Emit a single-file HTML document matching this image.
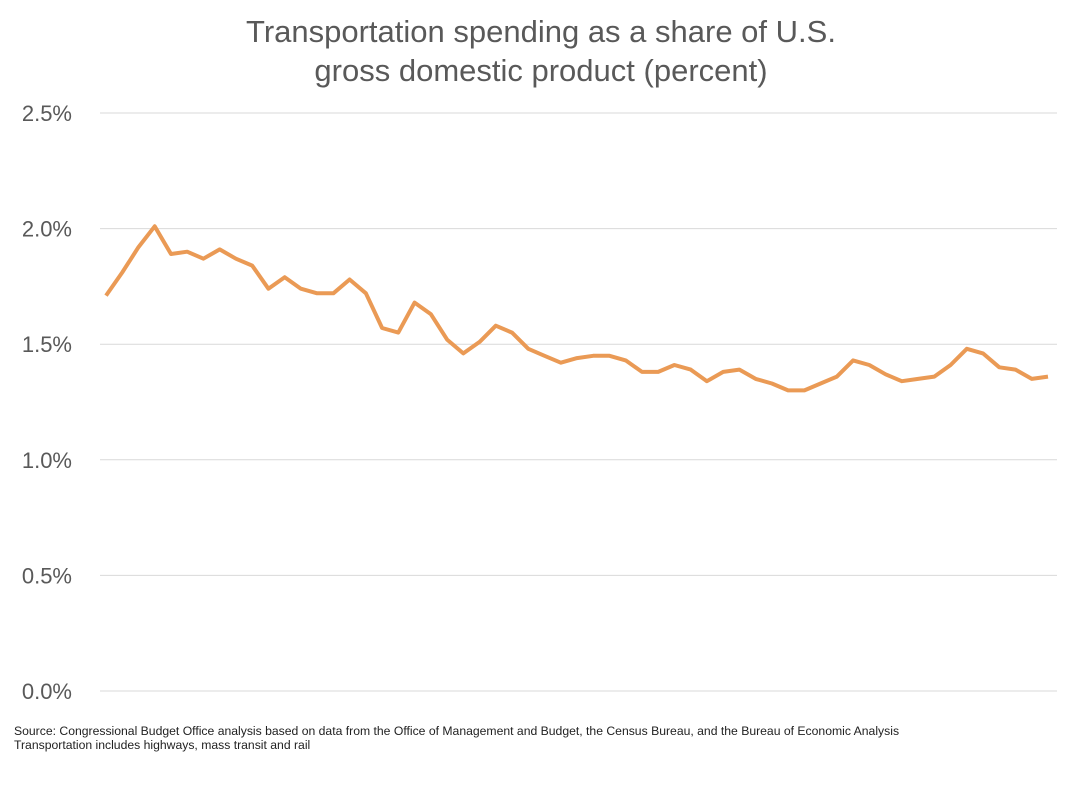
<!DOCTYPE html>
<html><head><meta charset="utf-8"><style>
body{margin:0;background:#fff;font-family:"Liberation Sans",sans-serif;}
</style></head><body>
<svg width="1082" height="799" xmlns="http://www.w3.org/2000/svg">
<text x="541" y="42" text-anchor="middle" font-size="31" fill="#595959">Transportation spending as a share of U.S.</text>
<text x="541" y="81" text-anchor="middle" font-size="31" fill="#595959">gross domestic product (percent)</text>
<g id="grid"></g><g id="ylabels"></g>
<path id="line" fill="none" stroke="#ea9a55" stroke-width="4" stroke-linejoin="round"/>
<text x="14" y="735" font-size="12.2" fill="#222">Source: Congressional Budget Office analysis based on data from the Office of Management and Budget, the Census Bureau, and the Bureau of Economic Analysis</text>
<text x="14" y="749" font-size="12.2" fill="#222">Transportation includes highways, mass transit and rail</text>
</svg>
<script>
const yTicks=[0,0.5,1.0,1.5,2.0,2.5];
const yTickLabels=["0.0%","0.5%","1.0%","1.5%","2.0%","2.5%"];
const values=[1.71,1.81,1.92,2.01,1.89,1.90,1.87,1.91,1.87,1.84,1.74,1.79,1.74,1.72,1.72,1.78,1.72,1.57,1.55,1.68,1.63,1.52,1.46,1.51,1.58,1.55,1.48,1.45,1.42,1.44,1.45,1.45,1.43,1.38,1.38,1.41,1.39,1.34,1.38,1.39,1.35,1.33,1.30,1.30,1.33,1.36,1.43,1.41,1.37,1.34,1.35,1.36,1.41,1.48,1.46,1.40,1.39,1.35,1.36];
const y=v=>691-v*231.2;
const x=i=>106+i*(1048-106)/(values.length-1);
const ns="http://www.w3.org/2000/svg";
const g=document.getElementById('grid'),yl=document.getElementById('ylabels');
yTicks.forEach((t,i)=>{
 const l=document.createElementNS(ns,'line');
 l.setAttribute('x1',100);l.setAttribute('x2',1057);l.setAttribute('y1',y(t));l.setAttribute('y2',y(t));
 l.setAttribute('stroke','#d9d9d9');l.setAttribute('stroke-width','1');
 
 
 g.appendChild(l);
 const tx=document.createElementNS(ns,'text');
 tx.setAttribute('x',72);tx.setAttribute('y',y(t)+8);tx.setAttribute('text-anchor','end');
 tx.setAttribute('font-size','22');tx.setAttribute('fill','#595959');
 tx.textContent=yTickLabels[i];
 
 
 yl.appendChild(tx);
});
document.getElementById('line').setAttribute('d',values.map((v,i)=>(i?'L':'M')+x(i).toFixed(1)+','+y(v).toFixed(1)).join(''));
</script>
</body></html>
